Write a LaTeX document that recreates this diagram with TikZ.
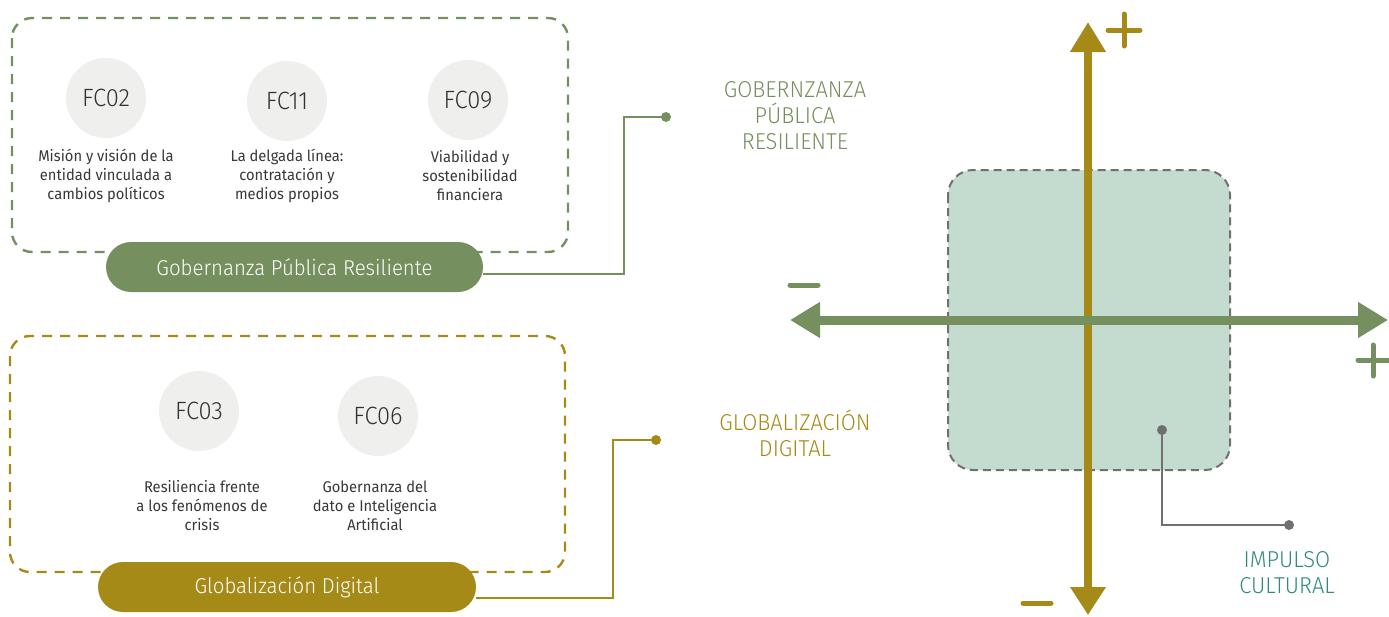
\documentclass[tikz,border=0pt]{standalone}
\usepackage{fontspec}
\setmainfont{Fira Sans}[FakeStretch=0.95]
\newfontfamily\lightfont{Fira Sans}[UprightFont={* Light},FakeStretch=0.95]
\usetikzlibrary{arrows.meta}

\definecolor{gprgreen}{HTML}{768F5E}
\definecolor{gdgold}{HTML}{A68A17}
\definecolor{icteal}{HTML}{2E8B7E}
\definecolor{icfill}{HTML}{C4DBCF}
\definecolor{fcgray}{HTML}{EFEFEE}
\definecolor{linegray}{HTML}{707070}

\begin{document}
\begin{tikzpicture}[x=1pt,y=-1pt]
    \useasboundingbox (0,0) rectangle (1389,616);

    % dashed group frames
    \draw[gprgreen, line width=2.4pt, dash pattern=on 10pt off 8pt, rounded corners=20pt] (12,18) rectangle (568,252);
    \draw[gdgold, line width=2.4pt, dash pattern=on 10pt off 8pt, rounded corners=20pt] (10,336) rectangle (565,572);

    \begin{scope}[every node/.style={circle, fill=fcgray, minimum size=80pt, inner sep=0, text=black!80, font=\lightfont\fontsize{25}{25}\selectfont}]
                        \node (FC02) at (106,98) {FC02};
                        \node (FC11) at (287,101) {FC11};
                        \node (FC09) at (468,100) {FC09};
                        \node (FC03) at (199,411) {FC03};
                        \node (FC06) at (378,416) {FC06};
    \end{scope}

    \begin{scope}[every node/.style={align=center, text=black!78, inner sep=0, font=\fontsize{15.5}{19}\selectfont}]
                        \node (FC02txt) at (106,176) {Misión y visión de la\\entidad vinculada a\\cambios políticos};
                        \node (FC11txt) at (287,176) {La delgada línea:\\contratación y\\medios propios};
                        \node (FC09txt) at (470,176) {Viabilidad y\\sostenibilidad\\financiera};
                        \node (FC03txt) at (202,506) {Resiliencia frente\\a los fenómenos de\\crisis};
                        \node (FC06txt) at (375,506) {Gobernanza del\\dato e Inteligencia\\Artificial};
    \end{scope}

    \begin{scope}[every node/.style={rounded corners=25pt, minimum height=50pt, text=white, font=\lightfont\fontsize{21.5}{22}\selectfont}]
                        \node [fill=gprgreen, minimum width=377pt] (gprPill) at (294.5,267) {Gobernanza Pública Resiliente};
                        \node [fill=gdgold, minimum width=378pt] (gdPill) at (287,587) {Globalización Digital};
    \end{scope}

    % axis labels
    \begin{scope}[every node/.style={align=center, inner sep=0, font=\lightfont\fontsize{23}{26}\selectfont}]
                        \node [text=gprgreen] (gprLabel) at (795,116) {GOBERNZANZA\\PÚBLICA\\RESILIENTE};
                        \node [text=gdgold] (gdLabel) at (795,433) {GLOBALIZACIÓN\\DIGITAL};
                        \node [text=icteal] (icLabel) at (1287,573) {IMPULSO\\CULTURAL};
    \end{scope}

    % impulso cultural area
    \draw[linegray, fill=icfill, line width=2pt, dash pattern=on 8pt off 5pt, rounded corners=25pt] (948,170) rectangle (1230,470);

    % connectors with end dots
    \begin{scope}[every node/.style={circle, inner sep=0, minimum size=10pt}]
                        \node [fill=gprgreen] (gprDot) at (666,117) {};
                        \node [fill=gdgold] (gdDot) at (656,440) {};
                        \node [fill=linegray] (icDot) at (1162,430) {};
                        \node [fill=linegray] (icEnd) at (1289,525) {};
    \end{scope}
    \coordinate (gprBend) at (624,117);
    \coordinate (gdBend) at (613,440);
    \coordinate (icBend) at (1162,525);
    \draw[gprgreen, line width=2pt] ([yshift=-7pt]gprPill.east) -| (gprBend) -- (gprDot.center);
    \draw[gdgold, line width=2pt] ([yshift=-11pt]gdPill.east) -| (gdBend) -- (gdDot.center);
    \draw[linegray, line width=2pt] (icDot.center) -- (icBend) -- (icEnd.center);

    % axes
    \coordinate (vTop) at (1088,22);
    \coordinate (vBot) at (1088,615);
    \coordinate (hLeft) at (790,320);
    \coordinate (hRight) at (1388,320);
    \draw[gdgold, line width=8pt, {Triangle[width=34pt,length=30pt]}-{Triangle[width=34pt,length=28pt]}] (vTop) -- (vBot);
    \draw[gprgreen, line width=9pt, {Triangle[width=34pt,length=30pt]}-{Triangle[width=34pt,length=30pt]}] (hLeft) -- (hRight);

    % plus and minus signs
    \begin{scope}[line width=5pt, line cap=round]
                        \draw[gdgold] (1108,30) -- (1140,30) (1124,14) -- (1124,46);
                        \draw[gdgold] (1023,603) -- (1051,603);
                        \draw[gprgreen] (790,285) -- (818,285);
                        \draw[gprgreen] (1358,360) -- (1389,360) (1373,345) -- (1373,376);
    \end{scope}
\end{tikzpicture}
\end{document}
